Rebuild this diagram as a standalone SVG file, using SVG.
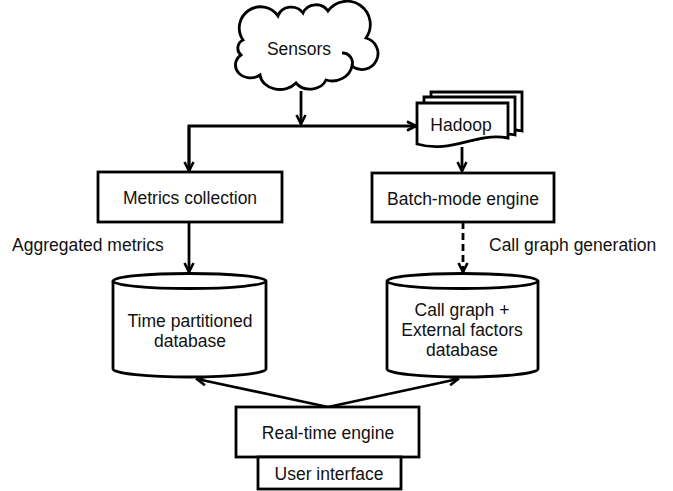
<svg xmlns="http://www.w3.org/2000/svg" width="673" height="491" viewBox="0 0 673 491">
<defs>
<style>
.s{fill:#fff;stroke:#000;stroke-width:2.8;stroke-linejoin:miter}
.t{font-family:"Liberation Sans",Arial,sans-serif;font-size:17.5px;fill:#111;text-anchor:middle;dominant-baseline:central}
.l{font-family:"Liberation Sans",Arial,sans-serif;font-size:17.5px;fill:#111;dominant-baseline:central}
.c{fill:none;stroke:#000;stroke-width:2.8}
.d{stroke-dasharray:7,4}
</style>
<marker id="a" viewBox="0 0 12 12" refX="10.5" refY="6" markerWidth="12" markerHeight="12" markerUnits="userSpaceOnUse" orient="auto">
<path d="M1.5,1.5 L10.5,6 L1.5,10.5" fill="none" stroke="#000" stroke-width="2.6"/>
</marker>
</defs>
<rect width="673" height="491" fill="#fff"/>
<g id="connectors">
<path class="c" d="M301,91 V124" marker-end="url(#a)"/>
<path class="c" d="M189,172 V126 H416" marker-end="url(#a)"/>
<path class="c" d="M189,126 V171" marker-end="url(#a)"/>
<path class="c" d="M462,147 V171" marker-end="url(#a)"/>
<path class="c" d="M189,222 V272" marker-end="url(#a)"/>
<path class="c d" d="M463,222 V272" marker-end="url(#a)"/>
<path class="c" d="M328,407 L197,379" marker-end="url(#a)"/>
<path class="c" d="M328,407 L458,379" marker-end="url(#a)"/>
</g>
<g id="sensors">
<path class="s" d="M243,40 A19,19 0 0 1 278,16 A14,13 0 0 1 303,13 A14,13 0 0 1 328,11 A22,22 0 0 1 366,38 A16,16 0 1 1 352,66 A20,18 0 0 1 326,80 A17,14 0 0 1 296,83 A20,16 0 0 1 260,75 A14,12 0 0 1 241,55 A9,9 0 0 1 243,40 Z"/>
<path class="c" d="M342,53 A10,10 0 0 1 352,66"/>
<text class="t" x="299" y="49">Sensors</text>
</g>
<g id="hadoop">
<path class="s" d="M431,92 H522 V131 C505,127 490,136 470,136 L431,136 Z"/>
<path class="s" d="M424,97 H515 V135 C497,131 482,141 462,141 L424,141 Z"/>
<path class="s" d="M417,103 H508 V138 C475,132 452,154 417,144 Z"/>
<text class="t" x="461" y="125">Hadoop</text>
</g>
<g id="metrics">
<rect class="s" x="98" y="172" width="184" height="50"/>
<text class="t" x="190" y="198">Metrics collection</text>
</g>
<g id="batch">
<rect class="s" x="372" y="173" width="182" height="49"/>
<text class="t" x="463" y="199">Batch-mode engine</text>
</g>
<text class="l" x="12" y="245">Aggregated metrics</text>
<text class="l" x="489" y="245">Call graph generation</text>
<g id="timedb">
<path class="s" d="M113,281 V369 A76.5,8 0 0 0 266,369 V281"/>
<ellipse class="s" cx="189.5" cy="281" rx="76.5" ry="7.5"/>
<text class="t" x="190" y="321">Time partitioned</text>
<text class="t" x="190" y="341">database</text>
</g>
<g id="calldb">
<path class="s" d="M387,281 V369 A75.5,8 0 0 0 538,369 V281"/>
<ellipse class="s" cx="462.5" cy="281" rx="75.5" ry="7.5"/>
<text class="t" x="462" y="310">Call graph +</text>
<text class="t" x="462" y="330">External factors</text>
<text class="t" x="462" y="350">database</text>
</g>
<g id="realtime">
<rect class="s" x="236" y="407" width="183" height="50"/>
<text class="t" x="328" y="433">Real-time engine</text>
</g>
<g id="ui">
<rect class="s" x="258" y="457" width="143" height="32"/>
<text class="t" x="329" y="474">User interface</text>
</g>
</svg>
